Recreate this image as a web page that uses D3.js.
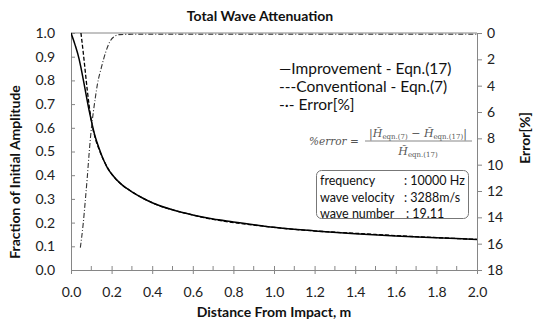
<!DOCTYPE html>
<html><head><meta charset="utf-8">
<script src="https://cdn.jsdelivr.net/npm/d3@7"></script>
<style>body{margin:0;background:#fff}svg{display:block;font-family:Lato,"Open Sans",sans-serif}.serif text{font-family:"DejaVu Serif",serif}</style>
</head><body><svg id="c" width="541" height="320"></svg>
<script>
const xTicks=[0,0.2,0.4,0.6,0.8,1.0,1.2,1.4,1.6,1.8,2.0];
const yTicks=[0,0.1,0.2,0.3,0.4,0.5,0.6,0.7,0.8,0.9,1.0];
const y2Ticks=[0,2,4,6,8,10,12,14,16,18];
const improveX=[0,0.02,0.04,0.05,0.07,0.09,0.1,0.12,0.14,0.16,0.18,0.2,0.25,0.3,0.35,0.4,0.5,0.6,0.7,0.8,0.9,1.0,1.2,1.4,1.6,1.8,2.0];
const improveY=[1.0,0.95,0.89,0.85,0.76,0.67,0.63,0.56,0.51,0.465,0.43,0.405,0.36,0.33,0.305,0.284,0.254,0.232,0.215,0.203,0.191,0.18,0.165,0.153,0.143,0.136,0.129];
const convX=[0.049,0.06,0.07,0.08,0.09,0.1,0.12,0.14,0.16,0.18,0.2,0.25,0.3,0.4,0.6,1.0,1.5,2.0];
const convY=[1.0,0.92,0.84,0.76,0.69,0.63,0.555,0.505,0.465,0.432,0.406,0.36,0.33,0.284,0.232,0.18,0.15,0.129];
const errX=[0.046,0.06,0.07,0.08,0.09,0.1,0.11,0.12,0.13,0.15,0.17,0.19,0.21,0.24,0.3,0.5,1.0,1.5,2.0];
const errY=[16.3,14.5,12.8,11.0,9.0,7.3,6.0,4.9,3.9,2.6,1.5,0.7,0.3,0.12,0.1,0.1,0.1,0.1,0.1];

const svg=d3.select("#c");
const L=71,R=477,T=33,B=270;
const x=d3.scaleLinear([0,2],[L,R]);
const y=d3.scaleLinear([0,1],[B,T]);
const y2=d3.scaleLinear([0,18],[T,B]);
const ax="#868686";

svg.append("defs").append("clipPath").attr("id","clip").append("rect").attr("x",L).attr("y",T-2).attr("width",R-L).attr("height",B-T+2);

svg.append("line").attr("x1",L).attr("x2",R).attr("y1",T).attr("y2",T).attr("stroke",ax).attr("stroke-width",1);

const gl=svg.append("g").attr("transform",`translate(${L},0)`).call(d3.axisLeft(y).tickValues(yTicks).tickFormat(d3.format(".1f")).tickSizeInner(-4).tickSizeOuter(0).tickPadding(16));
const gb=svg.append("g").attr("transform",`translate(0,${B})`).call(d3.axisBottom(x).tickValues(xTicks).tickFormat(d3.format(".1f")).tickSize(4).tickSizeOuter(0).tickPadding(12));
gb.selectAll(".tick line").attr("y1",-4);
svg.append("g").selectAll("line").data(d3.range(0.1,2,0.2)).join("line").attr("x1",d=>x(d)).attr("x2",d=>x(d)).attr("y1",B).attr("y2",B-4).attr("stroke",ax);
const gr=svg.append("g").attr("transform",`translate(${R},0)`).call(d3.axisRight(y2).tickValues(y2Ticks).tickSize(5).tickSizeOuter(0).tickPadding(5));
[gl,gb,gr].forEach(g=>{g.attr("font-family",null);g.selectAll("path,line").attr("stroke",ax);g.selectAll("text").attr("font-size",14).attr("fill","#222");});
gb.selectAll("text").attr("dy","0.75em");

const pts=(xs,ys)=>xs.map((v,i)=>[v,ys[i]]);
const plot=svg.append("g").attr("clip-path","url(#clip)");
plot.append("path").attr("d",d3.line().x(d=>x(d[0])).y(d=>y(d[1])).curve(d3.curveMonotoneX)(pts(improveX,improveY))).attr("fill","none").attr("stroke","#000").attr("stroke-width",1.5);
plot.append("path").attr("d",d3.line().x(d=>x(d[0])).y(d=>y(d[1])).curve(d3.curveMonotoneX)(pts(convX,convY))).attr("fill","none").attr("stroke","#000").attr("stroke-width",1.3).attr("stroke-dasharray","4,2");
plot.append("path").attr("d",d3.line().x(d=>x(d[0])).y(d=>y2(d[1])).curve(d3.curveMonotoneX)(pts(errX,errY))).attr("fill","none").attr("stroke","#333").attr("stroke-width",1.1).attr("stroke-dasharray","5,2,1,2");

svg.append("text").attr("x",260).attr("y",21).attr("text-anchor","middle").attr("font-size",14).attr("font-weight","bold").attr("fill","#111").text("Total Wave Attenuation");
svg.append("text").attr("x",274).attr("y",317).attr("text-anchor","middle").attr("font-size",14).attr("font-weight","bold").attr("fill","#111").text("Distance From Impact, m");
svg.append("text").attr("transform","translate(20,172) rotate(-90)").attr("text-anchor","middle").attr("font-size",14).attr("font-weight","bold").attr("fill","#111").text("Fraction of Initial Amplitude");
svg.append("text").attr("transform","translate(530,138) rotate(-90)").attr("text-anchor","middle").attr("font-size",14).attr("font-weight","bold").attr("fill","#111").text("Error[%]");

const leg=[["—Improvement - Eqn.(17)"],["---Conventional - Eqn.(7)"],["-·- Error[%]"]];
const legY=[74,92,110];
svg.append("g").selectAll("text").data(leg).join("text").attr("x",279).attr("y",(d,i)=>legY[i]).attr("font-size",15.5).attr("fill","#111").text(d=>d[0]);

const f=svg.append("g").attr("class","serif").attr("fill","#555");
f.append("text").attr("x",309).attr("y",145).attr("font-size",10.5).attr("font-style","italic").text("%error =");
f.append("line").attr("x1",365).attr("x2",472).attr("y1",141).attr("y2",141).attr("stroke","#555").attr("stroke-width",0.7);
const num=f.append("text").attr("x",418).attr("y",137).attr("text-anchor","middle").attr("font-size",11);
num.append("tspan").text("|");
num.append("tspan").attr("font-style","italic").text("H\u0303");
num.append("tspan").attr("font-size",7).attr("dy",2).text("eqn.(7)");
num.append("tspan").attr("dy",-2).text(" − ");
num.append("tspan").attr("font-style","italic").text("H\u0303");
num.append("tspan").attr("font-size",7).attr("dy",2).text("eqn.(17)");
num.append("tspan").attr("dy",-2).text("|");
const den=f.append("text").attr("x",418).attr("y",155).attr("text-anchor","middle").attr("font-size",11);
den.append("tspan").attr("font-style","italic").text("H\u0303");
den.append("tspan").attr("font-size",7).attr("dy",2).text("eqn.(17)");

svg.append("rect").attr("x",316.5).attr("y",170.5).attr("width",152).attr("height",48).attr("rx",5).attr("fill","#fff").attr("stroke","#777");
const info=[["frequency",": 10000 Hz"],["wave velocity",": 3288m/s"],["wave number",": 19.11"]];
const ib=svg.append("g").attr("font-size",12.5).attr("fill","#111");
info.forEach((r,i)=>{ib.append("text").attr("x",320).attr("y",185+i*16.5).text(r[0]);ib.append("text").attr("x",i==2?406:404).attr("y",185+i*16.5).text(r[1]);});
</script></body></html>
